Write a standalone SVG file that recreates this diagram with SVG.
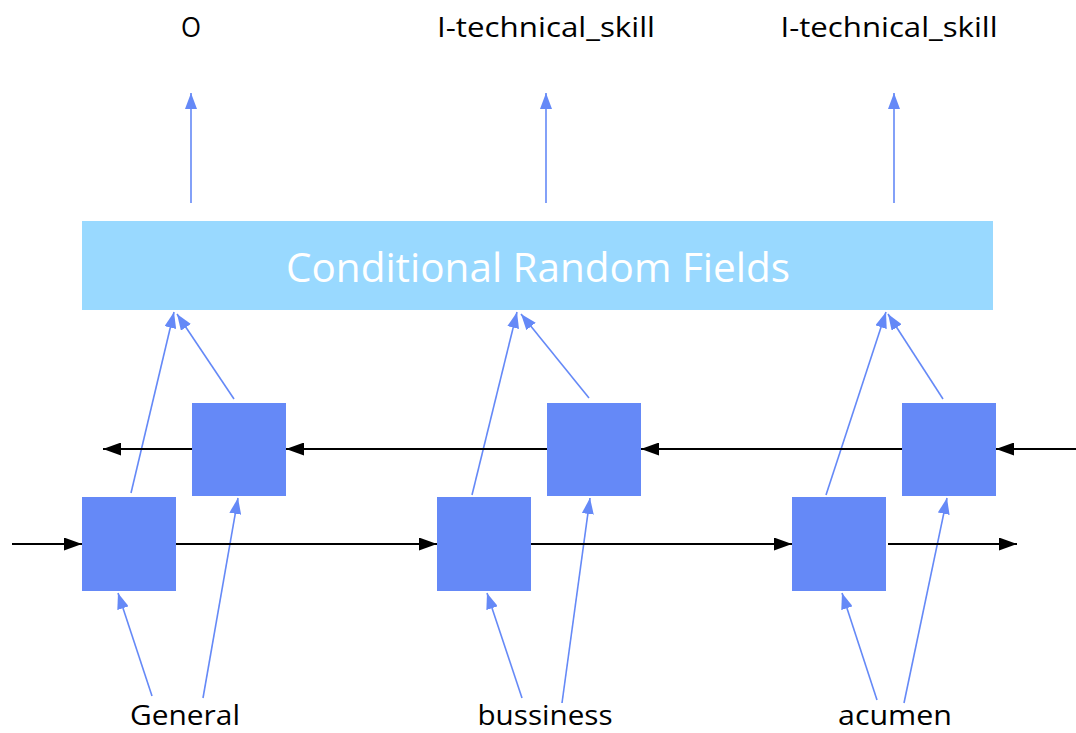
<svg xmlns="http://www.w3.org/2000/svg" width="1076" height="733" viewBox="0 0 1076 733">
  <style>
    .cell { fill: #6589F7; }
    .crf { fill: #99D9FF; }
    .lbl { font-family: "Open Sans", "Liberation Sans", sans-serif; font-size: 28px; fill: #000; }
    .word { font-family: "Open Sans", "Liberation Sans", sans-serif; font-size: 27px; fill: #000; }
    .crf-text { font-family: "Open Sans", "Liberation Sans", sans-serif; font-size: 40px; fill: #fff; }
    .blue { stroke: #6589F7; stroke-width: 1.6; fill: none; marker-end: url(#ab); }
    .black { stroke: #000; stroke-width: 2; fill: none; }
    .black.arr { marker-end: url(#ak); }
  </style>
  <defs>
    <marker id="ab" viewBox="0 0 16 12" refX="16" refY="6" markerWidth="16" markerHeight="12" markerUnits="userSpaceOnUse" orient="auto">
      <path d="M0,0 L16,6 L0,12 Z" fill="#6589F7"/>
    </marker>
    <marker id="ak" viewBox="0 0 18 13" refX="18" refY="6.5" markerWidth="18" markerHeight="13" markerUnits="userSpaceOnUse" orient="auto">
      <path d="M0,0 L18,6.5 L0,13 Z" fill="#000"/>
    </marker>
  </defs>

  <!-- output tags -->
  <g id="tag1"><text class="lbl" x="191" y="37" text-anchor="middle" textLength="20" lengthAdjust="spacingAndGlyphs">O</text></g>
  <g id="tag2"><text class="lbl" x="546" y="37" text-anchor="middle" textLength="218" lengthAdjust="spacingAndGlyphs">I-technical_skill</text></g>
  <g id="tag3"><text class="lbl" x="889" y="37" text-anchor="middle" textLength="217" lengthAdjust="spacingAndGlyphs">I-technical_skill</text></g>

  <!-- CRF layer -->
  <g id="crf">
    <rect class="crf" x="82" y="221" width="911" height="89"/>
    <text class="crf-text" x="538" y="282" text-anchor="middle" textLength="504" lengthAdjust="spacingAndGlyphs">Conditional Random Fields</text>
  </g>

  <!-- forward LSTM cells -->
  <g id="fwd1"><rect class="cell" x="82" y="497" width="94" height="94"/></g>
  <g id="fwd2"><rect class="cell" x="437" y="497" width="94" height="94"/></g>
  <g id="fwd3"><rect class="cell" x="792" y="497" width="94" height="94"/></g>

  <!-- backward LSTM cells -->
  <g id="bwd1"><rect class="cell" x="192" y="403" width="94" height="93"/></g>
  <g id="bwd2"><rect class="cell" x="547" y="403" width="94" height="93"/></g>
  <g id="bwd3"><rect class="cell" x="902" y="403" width="94" height="93"/></g>

  <!-- input words -->
  <g id="word1"><text class="word" x="185" y="725" text-anchor="middle" textLength="110" lengthAdjust="spacingAndGlyphs">General</text></g>
  <g id="word2"><text class="word" x="545" y="725" text-anchor="middle" textLength="135" lengthAdjust="spacingAndGlyphs">bussiness</text></g>
  <g id="word3"><text class="word" x="895" y="725" text-anchor="middle" textLength="114" lengthAdjust="spacingAndGlyphs">acumen</text></g>

  <g id="connectors">
    <!-- CRF to tags -->
    <line class="blue" x1="191" y1="203" x2="191" y2="93"/>
    <line class="blue" x1="546" y1="203" x2="546" y2="93"/>
    <line class="blue" x1="894" y1="203" x2="894" y2="93"/>

    <!-- cells to CRF -->
    <line class="blue" x1="131" y1="493" x2="174" y2="312"/>
    <line class="blue" x1="234" y1="399" x2="177" y2="314"/>
    <line class="blue" x1="472" y1="495" x2="517" y2="312"/>
    <line class="blue" x1="589" y1="398" x2="521" y2="314"/>
    <line class="blue" x1="826" y1="495" x2="886" y2="312"/>
    <line class="blue" x1="943" y1="399" x2="888" y2="314"/>

    <!-- words to cells -->
    <line class="blue" x1="152" y1="696" x2="118" y2="593"/>
    <line class="blue" x1="203" y1="698" x2="238" y2="498"/>
    <line class="blue" x1="522" y1="698" x2="487" y2="593"/>
    <line class="blue" x1="562" y1="703" x2="590" y2="498"/>
    <line class="blue" x1="877" y1="700" x2="842" y2="593"/>
    <line class="blue" x1="904" y1="703" x2="947" y2="498"/>

    <!-- forward recurrence -->
    <line class="black arr" x1="12" y1="544" x2="82" y2="544"/>
    <line class="black arr" x1="176" y1="544" x2="437" y2="544"/>
    <line class="black arr" x1="531" y1="544" x2="792" y2="544"/>
    <line class="black arr" x1="888" y1="544" x2="1017" y2="544"/>

    <!-- backward recurrence -->
    <line class="black arr" x1="1076" y1="449" x2="996" y2="449"/>
    <line class="black arr" x1="902" y1="449" x2="641" y2="449"/>
    <line class="black arr" x1="547" y1="449" x2="286" y2="449"/>
    <line class="black arr" x1="192" y1="449" x2="103" y2="449"/>
  </g>
</svg>
